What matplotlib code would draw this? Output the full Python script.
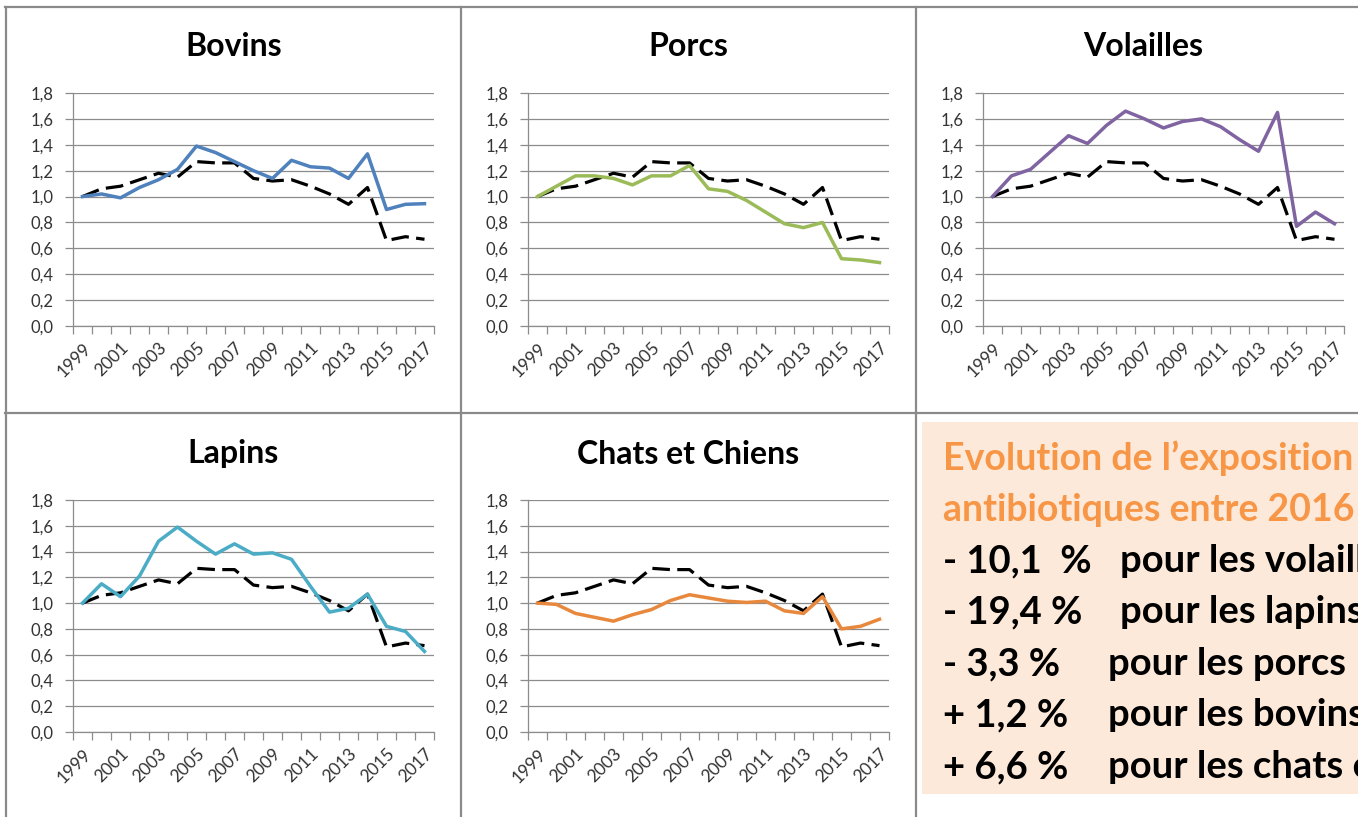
import matplotlib
matplotlib.use("Agg")
import matplotlib.pyplot as plt
from matplotlib.lines import Line2D
from matplotlib.ticker import FixedLocator, FixedFormatter

# ---------------- data ----------------
years = list(range(1999, 2018))
year_labels = [str(y) for y in years[::2]]

reference = [1.00, 1.06, 1.08, 1.13, 1.18, 1.15, 1.27, 1.26, 1.26, 1.14,
             1.12, 1.13, 1.08, 1.02, 0.94, 1.07, 0.66, 0.69, 0.67]
bovins = [1.00, 1.02, 0.99, 1.07, 1.13, 1.21, 1.39, 1.34, 1.27, 1.20,
          1.14, 1.28, 1.23, 1.22, 1.14, 1.33, 0.90, 0.94, 0.945]
porcs = [1.00, 1.08, 1.16, 1.16, 1.14, 1.09, 1.16, 1.16, 1.24, 1.06,
         1.04, 0.97, 0.88, 0.79, 0.76, 0.80, 0.52, 0.51, 0.49]
volailles = [1.00, 1.16, 1.21, 1.34, 1.47, 1.41, 1.55, 1.66, 1.60, 1.53,
             1.58, 1.60, 1.54, 1.44, 1.35, 1.65, 0.77, 0.88, 0.79]
lapins = [1.00, 1.15, 1.05, 1.21, 1.48, 1.59, 1.48, 1.38, 1.46, 1.38,
          1.39, 1.34, 1.13, 0.93, 0.96, 1.07, 0.82, 0.78, 0.625]
chats_chiens = [1.00, 0.99, 0.92, 0.89, 0.86, 0.91, 0.95, 1.02, 1.065, 1.04,
                1.015, 1.005, 1.015, 0.94, 0.92, 1.05, 0.80, 0.82, 0.875]

panel_titles = ["Bovins", "Porcs", "Volailles", "Lapins", "Chats et Chiens"]
panel_series = [bovins, porcs, volailles, lapins, chats_chiens]
panel_colors = ["#4F81BD", "#9BBB59", "#8064A2", "#4BACC6", "#E8883D"]

y_ticks = [0.0, 0.2, 0.4, 0.6, 0.8, 1.0, 1.2, 1.4, 1.6, 1.8]

box_title = ["Evolution de l\u2019exposition aux", "antibiotiques entre 2016 et 2017"]
box_pct = ["- 10,1  %", "- 19,4 %", "- 3,3 %", "+ 1,2 %", "+ 6,6 %"]
box_text = ["pour les volailles", "pour les lapins", "pour les porcs",
            "pour les bovins", "pour les chats et chiens"]

# ---------------- layout ----------------
W, H = 1358, 817
fig = plt.figure(figsize=(W / 100, H / 100), dpi=100)
fig.patch.set_facecolor("white")
FONT = "Lato"


def px_axes(x0, y0, x1, y1):
    return fig.add_axes([x0 / W, 1 - y1 / H, (x1 - x0) / W, (y1 - y0) / H])


def fig_line(x0, y0, x1, y1, **kw):
    fig.add_artist(Line2D([x0 / W, x1 / W], [1 - y0 / H, 1 - y1 / H],
                          transform=fig.transFigure, **kw))


axes_boxes = [(73, 93, 434, 326), (528, 93, 889, 326), (983, 93, 1344, 326),
              (73, 500, 434, 732), (528, 500, 889, 732)]
title_pos = [(234, 47), (688, 47), (1143, 47), (233, 454), (688, 454)]

grid_col = "#8C8C8C"
x = list(range(len(years)))

for (box, tpos, title, series, col) in zip(axes_boxes, title_pos, panel_titles,
                                           panel_series, panel_colors):
    ax = px_axes(*box)
    ax.plot(x, reference, color="black", lw=2.3, dashes=(5.5, 2.3),
            solid_capstyle="butt", zorder=3)
    ax.plot(x, series, color=col, lw=2.5, zorder=4, solid_joinstyle="round")
    ax.set_xlim(-0.5, len(years) - 0.5)
    ax.set_ylim(0, 1.8)
    ax.yaxis.set_major_locator(FixedLocator(y_ticks))
    ax.set_yticklabels([f"{v:.1f}".replace(".", ",") for v in y_ticks],
                       fontsize=12, color="#333333", family=FONT)
    ax.grid(axis="y", color=grid_col, lw=0.9)
    ax.set_axisbelow(True)
    ax.xaxis.set_major_locator(FixedLocator(x[::2]))
    ax.xaxis.set_major_formatter(FixedFormatter(year_labels))
    ax.xaxis.set_minor_locator(FixedLocator([i - 0.5 for i in range(len(years) + 1)]))
    ax.tick_params(axis="x", which="major", length=0, pad=10)
    ax.tick_params(axis="x", which="minor", length=6, width=0.9, color=grid_col,
                   direction="out")
    ax.tick_params(axis="y", length=6, width=0.9, color=grid_col, pad=8)
    for lab in ax.get_xticklabels():
        lab.set_rotation(45)
        lab.set_ha("right")
        lab.set_va("top")
        lab.set_rotation_mode("anchor")
        lab.set_fontsize(12.5)
        lab.set_color("#333333")
        lab.set_family(FONT)
    for s in ["top", "right"]:
        ax.spines[s].set_visible(False)
    for s in ["left", "bottom"]:
        ax.spines[s].set_color(grid_col)
        ax.spines[s].set_linewidth(0.9)
    fig.text(tpos[0] / W, 1 - tpos[1] / H, title, ha="center", va="center",
             fontsize=23, fontweight="bold", family=FONT, color="black")

# panel borders
bcol = "#8A8A8A"
fig_line(5, 7, W, 7, color=bcol, lw=1.6)
fig_line(5.5, 7, 5.5, H, color=bcol, lw=1.6)
fig_line(5, 413, W, 413, color=bcol, lw=1.6)
fig_line(460.5, 7, 460.5, H, color=bcol, lw=1.6)
fig_line(916, 7, 916, H, color=bcol, lw=1.6)

# text box
bx0, by0, bx1, by1 = 922, 422, W, 794
tb = px_axes(bx0, by0, bx1, by1)
tb.set_facecolor("#FDE9D9")
tb.set_xticks([])
tb.set_yticks([])
for s in tb.spines.values():
    s.set_visible(False)
tb.set_xlim(bx0, bx1)
tb.set_ylim(by1, by0)

for i, line in enumerate(box_title):
    tb.text(943, 470 + 51 * i, line, color="#F79646", fontsize=27,
            fontweight="bold", family=FONT, va="baseline", ha="left",
            clip_on=True)
pour_x = [1120, 1120, 1108, 1108, 1108]
for i, (p, t) in enumerate(zip(box_pct, box_text)):
    yb = 572 + 51.5 * i
    tb.text(943, yb, p, color="black", fontsize=27.5, fontweight="bold",
            family=FONT, va="baseline", ha="left", clip_on=True)
    tb.text(pour_x[i], yb, t, color="black", fontsize=27.5, fontweight="bold",
            family=FONT, va="baseline", ha="left", clip_on=True)

fig.savefig("out.png", dpi=100)
